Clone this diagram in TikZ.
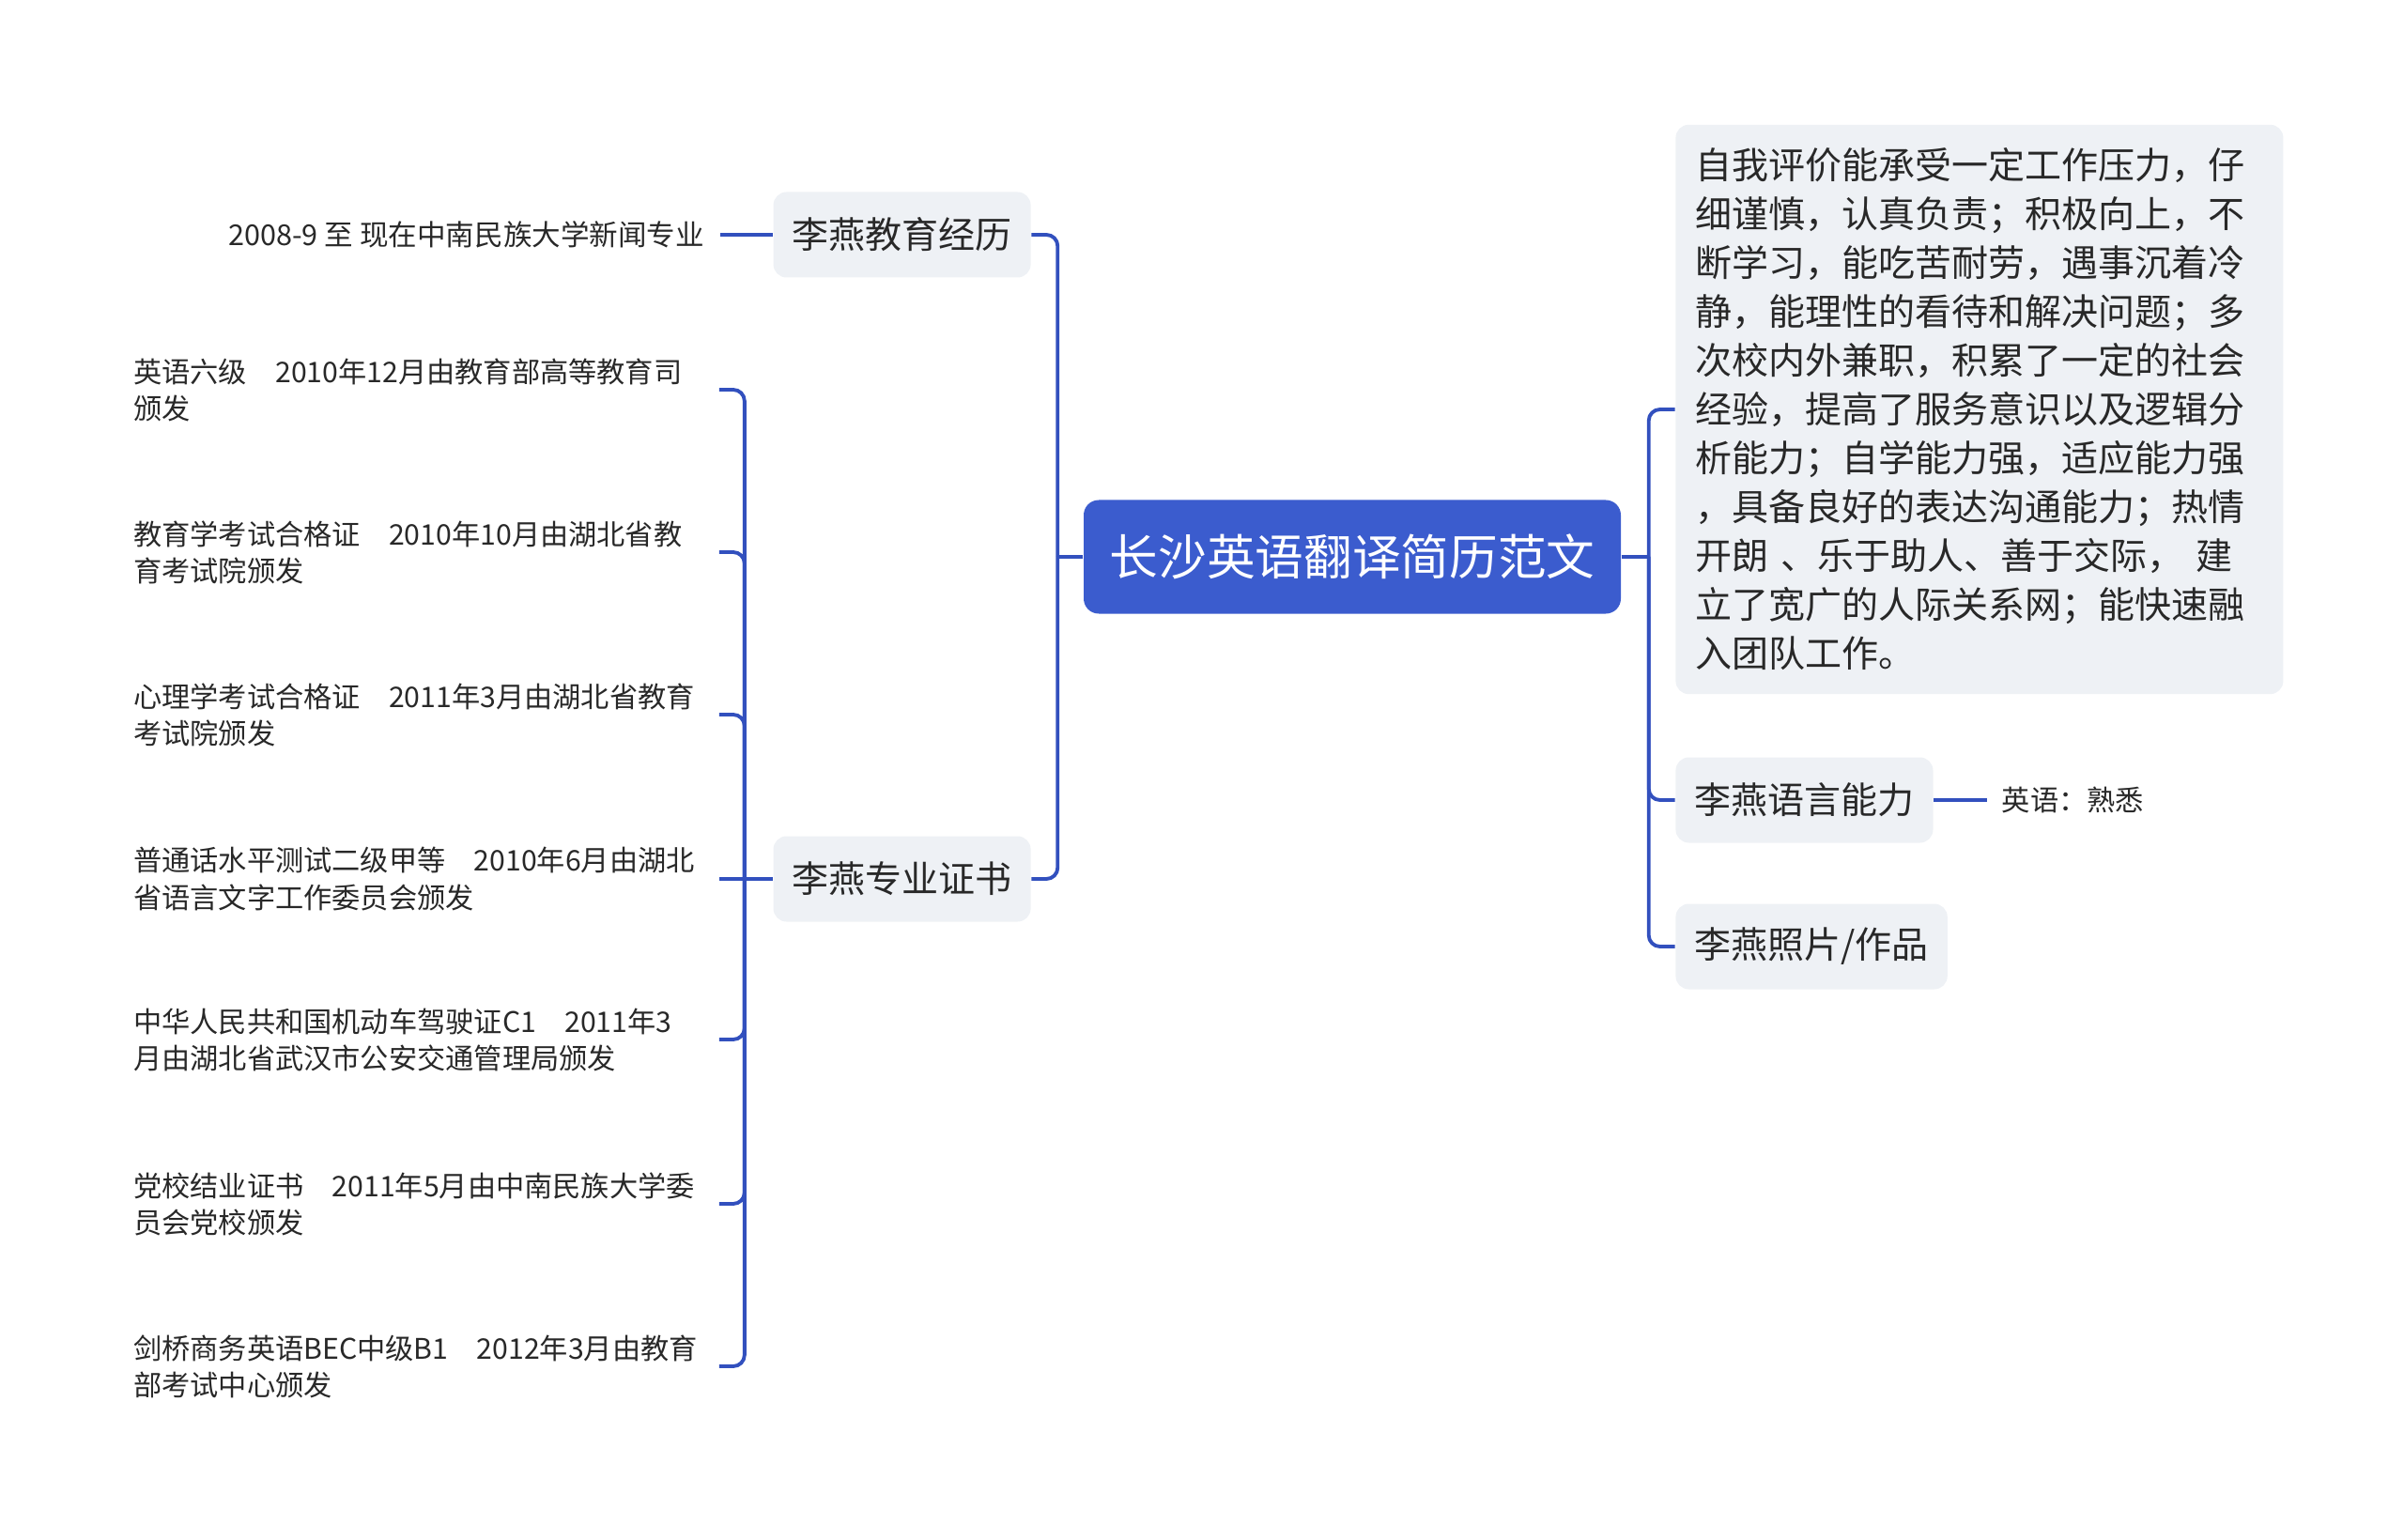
\documentclass[tikz,border=0pt]{standalone}
\usepackage{fontspec}
\usepackage{tikz}
\usetikzlibrary{%
   calc,%
   positioning}
\newfontfamily\cjk{Noto Sans CJK SC}
\definecolor{hubblue}{RGB}{59,92,206}
\definecolor{astblue}{RGB}{50,80,190}
\definecolor{boxgray}{RGB}{238,241,245}
\definecolor{txtgray}{RGB}{40,40,40}

\begin{document}
\begin{tikzpicture}
[font=\cjk,
 hub/.style={rectangle, rounded corners=1.6mm, fill=hubblue, text=white, minimum width=57.2mm, minimum height=12.1mm, font=\cjk\fontsize{14.7}{18}\selectfont},
 topic/.style={rectangle, rounded corners=1.4mm, fill=boxgray, text=txtgray, minimum height=9.1mm, inner xsep=2mm, font=\cjk\fontsize{11.1}{14.8}\selectfont},
 leaf/.style={text=txtgray, text width=60.8mm, align=left, inner xsep=1.5mm, font=\cjk\fontsize{8.6}{11.1}\selectfont},
 ast/.style={draw=astblue, line width=1.1pt, rounded corners=1.2mm}]
\useasboundingbox (0,0) rectangle (256mm,-164mm);
\node (maintit) [hub] at (144mm,-59.3mm) {长沙英语翻译简历范文};
% left side
\node (eduhist) [topic, left=5.5mm of maintit, yshift=34.3mm] {李燕教育经历};
\node (certifs) [topic, left=5.5mm of maintit, yshift=-34.3mm] {李燕专业证书};
\node (eduleaf) [text=txtgray, inner xsep=1.6mm, font=\cjk\fontsize{8.7}{11.1}\selectfont, left=5.6mm of eduhist] {2008-9 至 现在中南民族大学新闻专业};
\node (certcet) [leaf, left=5.7mm of certifs, yshift=52.1mm] {英语六级\quad 2010年12月由教育部高等教育司\\ 颁发};
\node (certedu) [leaf, left=5.7mm of certifs, yshift=34.8mm] {教育学考试合格证\quad 2010年10月由湖北省教\\ 育考试院颁发};
\node (certpsy) [leaf, left=5.7mm of certifs, yshift=17.5mm] {心理学考试合格证\quad 2011年3月由湖北省教育\\ 考试院颁发};
\node (certman) [leaf, left=5.7mm of certifs] {普通话水平测试二级甲等\quad 2010年6月由湖北\\ 省语言文字工作委员会颁发};
\node (certdrv) [leaf, left=5.7mm of certifs, yshift=-17.1mm] {中华人民共和国机动车驾驶证C1\quad 2011年3\\ 月由湖北省武汉市公安交通管理局颁发};
\node (certpty) [leaf, left=5.7mm of certifs, yshift=-34.6mm] {党校结业证书\quad 2011年5月由中南民族大学委\\ 员会党校颁发};
\node (certbec) [leaf, left=5.7mm of certifs, yshift=-51.9mm] {剑桥商务英语BEC中级B1\quad 2012年3月由教育\\ 部考试中心颁发};
% right side
\node (selfevl) [topic, right=5.7mm of maintit, yshift=15.7mm, align=left, inner xsep=2.1mm, inner ysep=2.5mm, text width=60.5mm] {自我评价能承受一定工作压力，仔\\ 细谨慎，认真负责；积极向上，不\\ 断学习，能吃苦耐劳，遇事沉着冷\\ 静，能理性的看待和解决问题；多\\ 次校内外兼职，积累了一定的社会\\ 经验，提高了服务意识以及逻辑分\\ 析能力；自学能力强，适应能力强\\ ，具备良好的表达沟通能力；热情\\ 开朗 、乐于助人、善于交际， 建\\ 立了宽广的人际关系网；能快速融\\ 入团队工作。};
\node (langabl) [topic, right=5.7mm of maintit, yshift=-25.9mm] {李燕语言能力};
\node (photwrk) [topic, right=5.7mm of maintit, yshift=-41.5mm] {李燕照片/作品};
\node (engleaf) [text=txtgray, inner xsep=1.5mm, font=\cjk\fontsize{8.6}{11.1}\selectfont, right=5.7mm of langabl] {英语：熟悉};
\coordinate (lftjunc) at ($(maintit.west) + (-2.7mm,0)$);
\coordinate (rgtjunc) at ($(maintit.east) + ( 2.9mm,0)$);
\coordinate (crtjunc) at ($(certifs.west) + (-3mm,0)$);
\draw[ast] (maintit.west) -- (lftjunc);
\draw[ast] (lftjunc) |- (eduhist.east);
\draw[ast] (lftjunc) |- (certifs.east);
\draw[ast] (eduhist.west) -- (eduleaf.east);
\draw[ast] (certifs.west) -- (crtjunc);
\draw[ast] (crtjunc) |- (certcet.east);
\draw[ast] (crtjunc) |- (certedu.east);
\draw[ast] (crtjunc) |- (certpsy.east);
\draw[ast] (crtjunc) -- (certman.east);
\draw[ast] (crtjunc) |- (certdrv.east);
\draw[ast] (crtjunc) |- (certpty.east);
\draw[ast] (crtjunc) |- (certbec.east);
\draw[ast] (maintit.east) -- (rgtjunc);
\draw[ast] (rgtjunc) |- (selfevl.west);
\draw[ast] (rgtjunc) |- (langabl.west);
\draw[ast] (rgtjunc) |- (photwrk.west);
\draw[ast] (langabl.east) -- (engleaf.west);
\end{tikzpicture}
\end{document}
